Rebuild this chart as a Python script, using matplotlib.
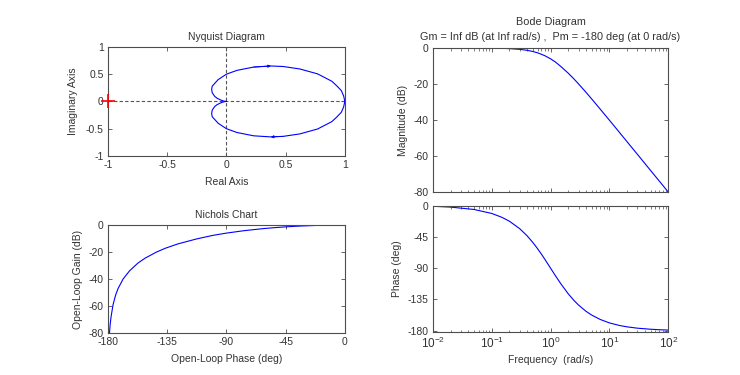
import matplotlib
matplotlib.use("Agg")
import matplotlib.pyplot as plt
from matplotlib.ticker import LogLocator, NullFormatter

plt.rcParams['font.family'] = ['Liberation Sans', 'DejaVu Sans']
plt.rcParams['mathtext.default'] = 'regular'
plt.rcParams['axes.unicode_minus'] = False
plt.rcParams['font.size'] = 7.5

TXT = '#333333'
EDGE = '#4d4d4d'
BLUE = '#0000ff'

# Bode data
freq = [0.01, 0.02, 0.05, 0.1, 0.15, 0.2, 0.3, 0.4, 0.5, 0.6, 0.7, 0.8, 1.0, 1.2, 1.5, 2.0,
        2.5, 3.0, 4.0, 5.0, 7.0, 10.0, 15.0, 20.0, 30.0, 50.0, 70.0, 100.0]
mag_db = [0.0, 0.0, -0.02, -0.09, -0.19, -0.34, -0.75, -1.29, -1.94, -2.67, -3.5, -4.3, -6.0, -7.7,
          -10.3, -14.0, -17.2, -20.0, -24.6, -28.3, -34.0, -40.1, -47.1, -52.1, -59.1, -68.0, -73.8, -80.0]
phase_deg = [-1.1, -2.3, -5.7, -11.4, -17.1, -22.6, -33.4, -43.6, -53.1, -61.9, -69.9, -77.3, -90.0,
             -100.4, -112.6, -126.9, -136.4, -143.1, -151.9, -157.4, -163.7, -168.6, -172.4, -174.3,
             -176.2, -177.7, -178.4, -178.9]

# Nyquist data, positive frequencies (lower half); upper half is its mirror
nyq_re = [1.0, 0.995, 0.99, 0.97, 0.93, 0.89, 0.77, 0.62, 0.48, 0.375, 0.23, 0.09, 0.0, -0.07,
          -0.12, -0.125, -0.12, -0.10, -0.08, -0.05, -0.026, -0.01, 0.0]
nyq_im = [0.0, -0.05, -0.10, -0.20, -0.29, -0.37, -0.505, -0.595, -0.64, -0.65, -0.63, -0.57, -0.5,
          -0.40, -0.28, -0.22, -0.16, -0.095, -0.06, -0.028, -0.009, -0.002, 0.0]

nyq_ticks = [-1, -0.5, 0, 0.5, 1]
nyq_labels = ['-1', '-0.5', '0', '0.5', '1']
nich_xticks = [-180, -135, -90, -45, 0]
db_ticks = [-80, -60, -40, -20, 0]
ph_ticks = [-180, -135, -90, -45, 0]

fig = plt.figure(figsize=(7.4, 3.75), dpi=100)


def style(ax):
    for s in ax.spines.values():
        s.set_color(EDGE)
        s.set_linewidth(0.8)
    ax.tick_params(direction='in', top=True, right=True, length=3, width=0.6,
                   color=EDGE, labelcolor=TXT, labelsize=7.5, pad=3)
    ax.tick_params(which='minor', direction='in', top=True, right=True, length=1.8,
                   width=0.5, color=EDGE)


# Nyquist
ax1 = fig.add_axes([0.146, 0.584, 0.320, 0.291])
ax1.axhline(0, color='#555555', ls=(0, (3, 2)), lw=0.8)
ax1.axvline(0, color='#555555', ls=(0, (3, 2)), lw=0.8)
ax1.plot(nyq_re, nyq_im, color=BLUE, lw=0.8)
ax1.plot(nyq_re, [-v for v in nyq_im], color=BLUE, lw=0.8)
i = 9
ax1.annotate('', xy=(nyq_re[i], nyq_im[i]), xytext=(nyq_re[i - 1], nyq_im[i - 1]),
             arrowprops=dict(arrowstyle='-|>', color=BLUE, lw=0.6, mutation_scale=4,
                             shrinkA=0, shrinkB=0))
ax1.annotate('', xy=(nyq_re[i], -nyq_im[i]), xytext=(nyq_re[i + 1], -nyq_im[i + 1]),
             arrowprops=dict(arrowstyle='-|>', color=BLUE, lw=0.6, mutation_scale=4,
                             shrinkA=0, shrinkB=0))
ax1.plot([-1], [0], marker='+', color='red', ms=10, mew=1.2, clip_on=False, zorder=5)
ax1.set_xlim(-1, 1)
ax1.set_ylim(-1, 1)
ax1.set_xticks(nyq_ticks)
ax1.set_xticklabels(nyq_labels)
ax1.set_yticks(nyq_ticks)
ax1.set_yticklabels(nyq_labels)
ax1.set_title('Nyquist Diagram', color=TXT, fontsize=7.5, pad=5)
ax1.set_xlabel('Real Axis', color=TXT, labelpad=5)
ax1.set_ylabel('Imaginary Axis', color=TXT, labelpad=6)
style(ax1)

# Nichols
ax2 = fig.add_axes([0.146, 0.112, 0.320, 0.288])
ax2.plot(phase_deg, mag_db, color=BLUE, lw=0.8)
ax2.set_xlim(-180, 0)
ax2.set_ylim(-80, 0)
ax2.set_xticks(nich_xticks)
ax2.set_yticks(db_ticks)
ax2.set_title('Nichols Chart', color=TXT, fontsize=7.5, pad=5)
ax2.set_xlabel('Open-Loop Phase (deg)', color=TXT, labelpad=5)
ax2.set_ylabel('Open-Loop Gain (dB)', color=TXT, labelpad=4)
style(ax2)

# Bode magnitude
ax3 = fig.add_axes([0.585, 0.488, 0.318, 0.384])
ax3.semilogx(freq, mag_db, color=BLUE, lw=0.8)
ax3.set_xlim(0.01, 100)
ax3.set_ylim(-80, 0)
ax3.set_yticks(db_ticks)
ax3.xaxis.set_minor_locator(LogLocator(base=10, subs=range(2, 10)))
ax3.xaxis.set_minor_formatter(NullFormatter())
ax3.set_xticklabels([])
ax3.set_ylabel('Magnitude (dB)', color=TXT, labelpad=4)
ax3.set_title('Bode Diagram\nGm = Inf dB (at Inf rad/s) ,  Pm = -180 deg (at 0 rad/s)',
              color=TXT, fontsize=7.8, pad=6, linespacing=1.6)
style(ax3)

# Bode phase
ax4 = fig.add_axes([0.585, 0.115, 0.318, 0.337])
ax4.semilogx(freq, phase_deg, color=BLUE, lw=0.8)
ax4.set_xlim(0.01, 100)
ax4.set_ylim(-181.5, 0)
ax4.set_yticks(ph_ticks)
ax4.xaxis.set_minor_locator(LogLocator(base=10, subs=range(2, 10)))
ax4.xaxis.set_minor_formatter(NullFormatter())
ax4.set_xlabel('Frequency  (rad/s)', color=TXT, labelpad=3)
ax4.set_ylabel('Phase (deg)', color=TXT, labelpad=4)
style(ax4)
ax4.tick_params(axis='x', which='major', labelsize=8.5)

fig.savefig('out.png', dpi=100)
